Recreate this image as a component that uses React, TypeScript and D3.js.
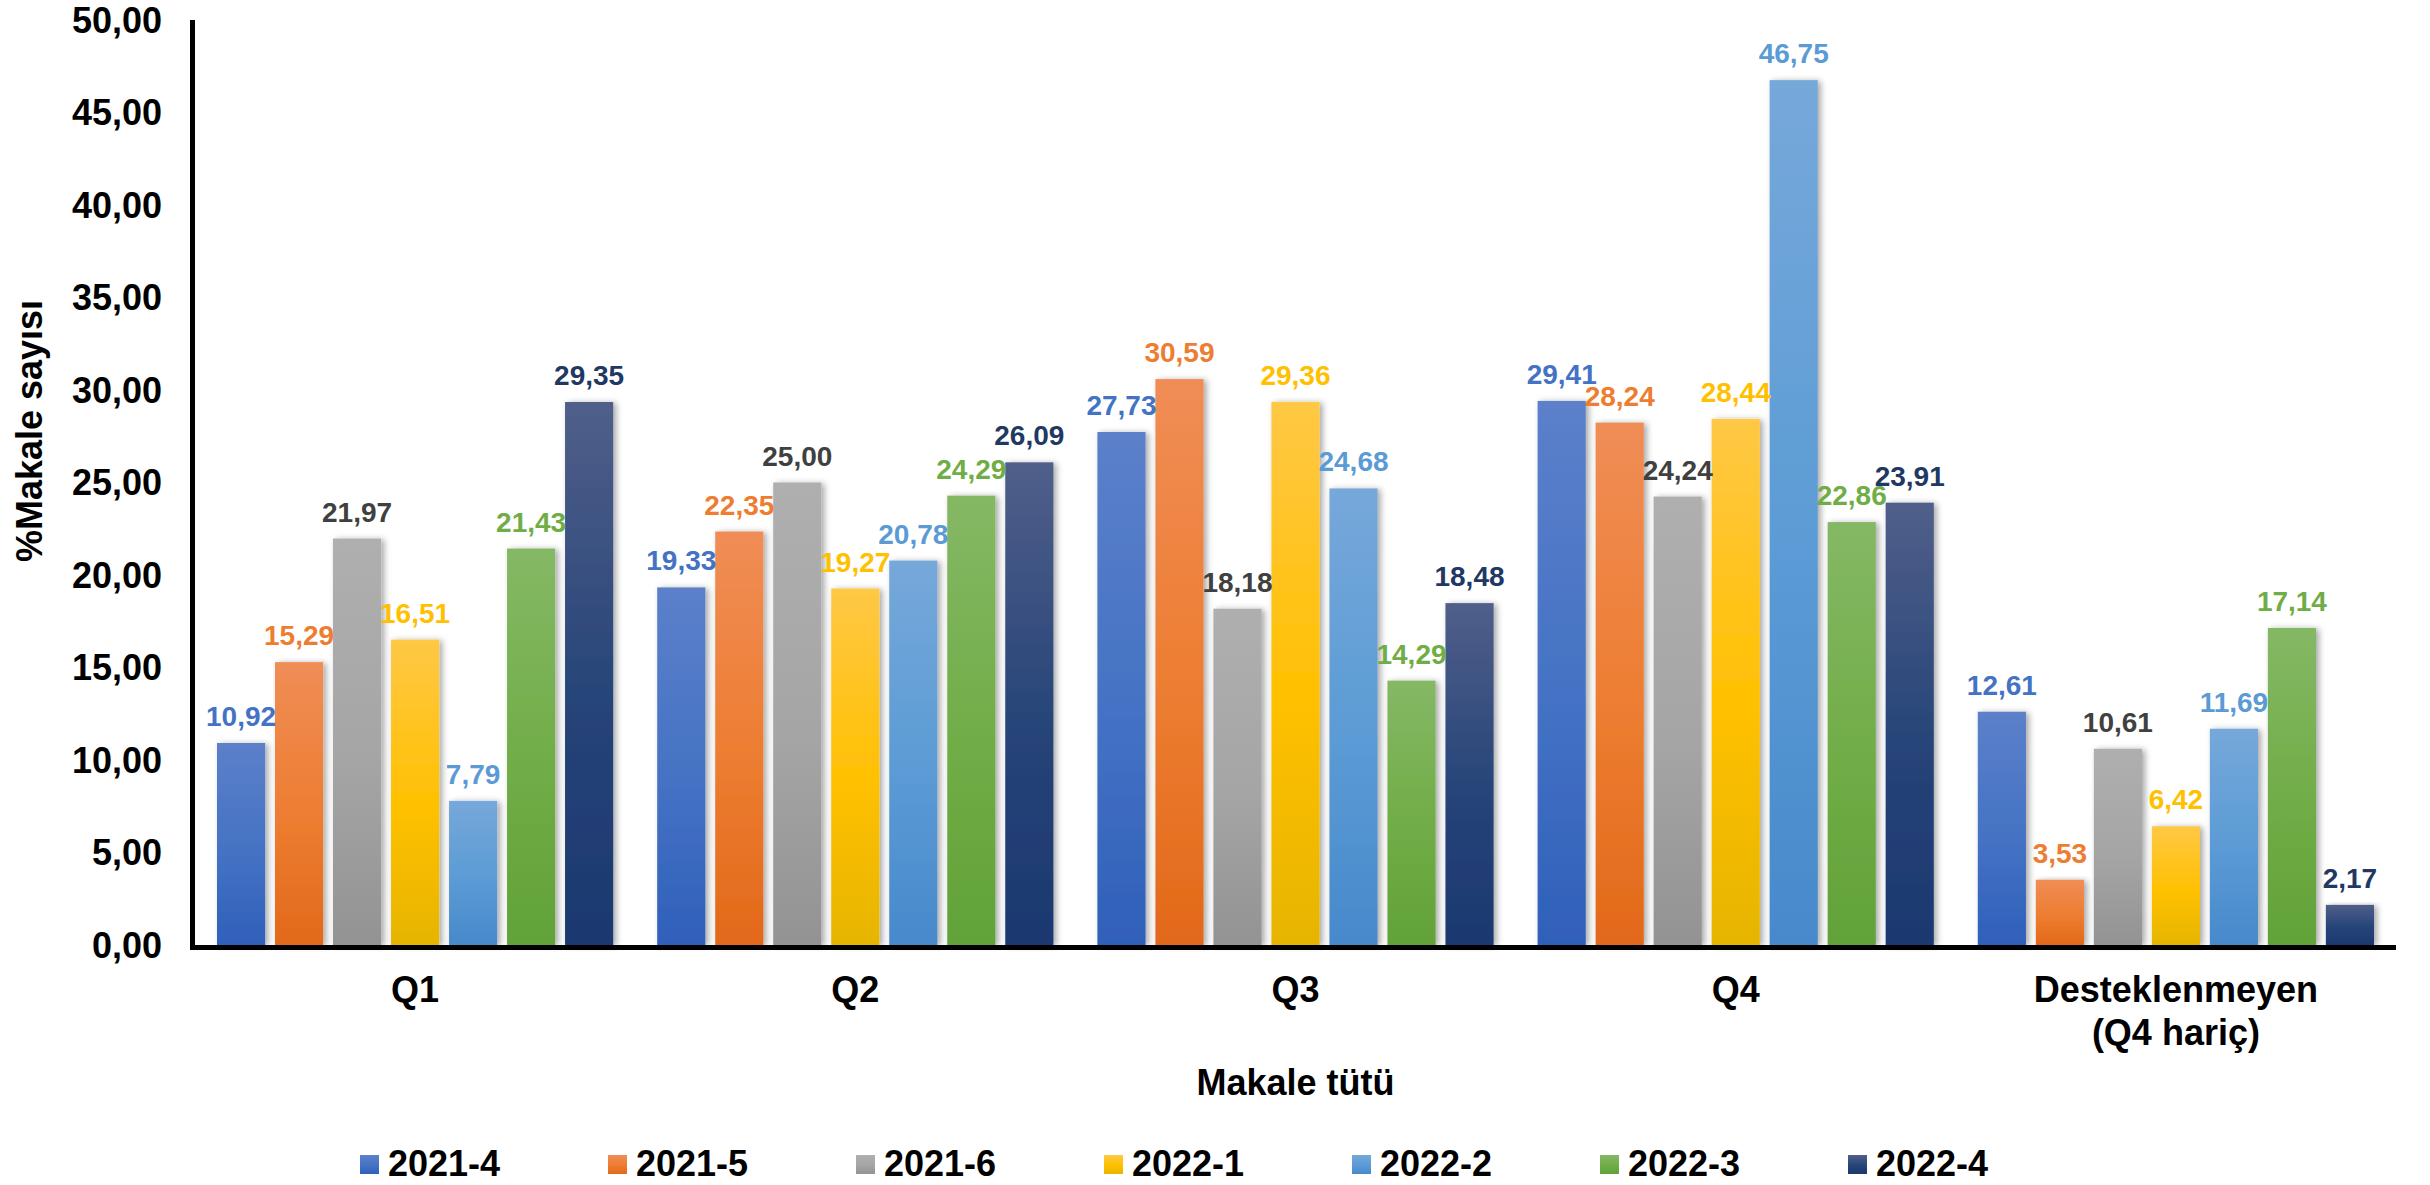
import React, { useEffect } from "react";
import * as d3 from "d3";

const categories = ["Q1", "Q2", "Q3", "Q4", "Desteklenmeyen\n(Q4 hariç)"];
const seriesNames = ["2021-4", "2021-5", "2021-6", "2022-1", "2022-2", "2022-3", "2022-4"];
const s2021_4 = [10.92, 19.33, 27.73, 29.41, 12.61];
const s2021_5 = [15.29, 22.35, 30.59, 28.24, 3.53];
const s2021_6 = [21.97, 25.0, 18.18, 24.24, 10.61];
const s2022_1 = [16.51, 19.27, 29.36, 28.44, 6.42];
const s2022_2 = [7.79, 20.78, 24.68, 46.75, 11.69];
const s2022_3 = [21.43, 24.29, 14.29, 22.86, 17.14];
const s2022_4 = [29.35, 26.09, 18.48, 23.91, 2.17];
const seriesValues = [s2021_4, s2021_5, s2021_6, s2022_1, s2022_2, s2022_3, s2022_4];
const yTicks = [0, 5, 10, 15, 20, 25, 30, 35, 40, 45, 50];

const baseColors = ["#4472C4", "#ED7D31", "#A5A5A5", "#FFC000", "#5B9BD5", "#70AD47", "#264478"];
const topColors = ["#5C80CA", "#F08D56", "#AFAFAF", "#FFC845", "#76A8DA", "#85B865", "#505F8A"];
const bottomColors = ["#2F60BA", "#E2691A", "#939393", "#E6B500", "#4789CB", "#62A239", "#1C386F"];
const labelColors = ["#4472C4", "#ED7D31", "#404040", "#FFC000", "#5B9BD5", "#70AD47", "#1F3864"];

const W = 2430;
const H = 1185;
const FONT = "'Liberation Sans', Arial, Helvetica, sans-serif";

export default function App() {
  useEffect(() => {
    document.body.style.margin = "0";
  }, []);

  const left = 195;
  const right = 2396;
  const top = 20;
  const bottom = 945;

  const x0 = d3.scaleBand<string>().domain(categories).range([left, right]).padding(0);
  const x1 = d3
    .scaleBand<string>()
    .domain(seriesNames)
    .range([22, x0.bandwidth() - 22])
    .paddingInner(0.17)
    .paddingOuter(0);
  const y = d3.scaleLinear().domain([0, 50]).range([bottom, top]);
  const fmt = (v: number) => d3.format(".2f")(v).replace(".", ",");
  const legendX = d3.scalePoint<string>().domain(seriesNames).range([360, 1848]);

  return (
    <svg
      width={W}
      height={H}
      style={{ position: "absolute", left: 0, top: 0, background: "#fff" }}
      fontFamily={FONT}
      fontWeight="bold"
    >
      <defs>
        {seriesNames.map((s, i) => (
          <linearGradient key={s} id={`g${i}`} x1="0" y1="0" x2="0" y2="1">
            <stop offset="0%" stopColor={topColors[i]} />
            <stop offset="55%" stopColor={baseColors[i]} />
            <stop offset="100%" stopColor={bottomColors[i]} />
          </linearGradient>
        ))}
        <filter id="shadow" x="-30%" y="-5%" width="160%" height="110%">
          <feDropShadow dx="3" dy="1" stdDeviation="3" floodColor="#000" floodOpacity="0.35" />
        </filter>
      </defs>
      <rect width={W} height={H} fill="#fff" />

      {/* y tick labels */}
      {yTicks.map((t) => (
        <text
          key={t}
          x={162}
          y={y(t)}
          dy="0.36em"
          textAnchor="end"
          fontSize={36}
          fill="#000"
        >
          {fmt(t)}
        </text>
      ))}

      {/* y title */}
      <text
        transform={`translate(42, 431) rotate(-90)`}
        textAnchor="middle"
        fontSize={36}
        fill="#000"
      >
        %Makale sayısı
      </text>

      {/* bars */}
      {categories.map((c, ci) => (
        <g key={c} transform={`translate(${x0(c)},0)`}>
          {seriesNames.map((s, si) => {
            const v = seriesValues[si][ci];
            return (
              <rect
                key={s}
                x={x1(s)}
                y={y(v)}
                width={x1.bandwidth()}
                height={y(0) - y(v)}
                fill={`url(#g${si})`}
                filter="url(#shadow)"
              />
            );
          })}
        </g>
      ))}

      {/* data labels */}
      {categories.map((c, ci) => (
        <g key={c + "l"} transform={`translate(${x0(c)},0)`}>
          {seriesNames.map((s, si) => {
            const v = seriesValues[si][ci];
            return (
              <text
                key={s}
                x={(x1(s) as number) + x1.bandwidth() / 2}
                y={y(v) - 17}
                textAnchor="middle"
                fontSize={28}
                fill={labelColors[si]}
              >
                {fmt(v)}
              </text>
            );
          })}
        </g>
      ))}

      {/* axes lines */}
      <line x1={left - 2.5} x2={left - 2.5} y1={top} y2={bottom + 2.5} stroke="#000" strokeWidth={5} />
      <line x1={left - 5} x2={right} y1={bottom + 2.5} y2={bottom + 2.5} stroke="#000" strokeWidth={5} />

      {/* category labels */}
      {categories.map((c) => {
        const lines = c.split("\n");
        return (
          <text
            key={c + "c"}
            x={(x0(c) as number) + x0.bandwidth() / 2}
            y={1002}
            textAnchor="middle"
            fontSize={36}
            fill="#000"
          >
            {lines.map((ln, li) => (
              <tspan key={li} x={(x0(c) as number) + x0.bandwidth() / 2} dy={li === 0 ? 0 : 43}>
                {ln}
              </tspan>
            ))}
          </text>
        );
      })}

      {/* x title */}
      <text x={(left + right) / 2} y={1095} textAnchor="middle" fontSize={36} fill="#000">
        Makale tütü
      </text>

      {/* legend */}
      {seriesNames.map((s, i) => (
        <g key={s + "lg"} transform={`translate(${legendX(s)},0)`}>
          <rect x={0} y={1155} width={19} height={19} fill={`url(#g${i})`} />
          <text x={28} y={1176} fontSize={36} fill="#000">
            {s}
          </text>
        </g>
      ))}
    </svg>
  );
}
